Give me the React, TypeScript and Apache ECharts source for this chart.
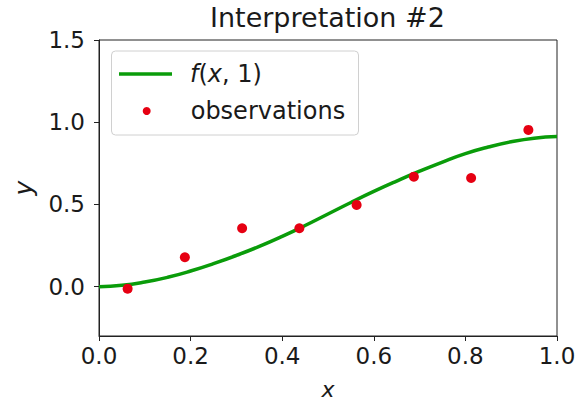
import React, { useEffect, useRef } from "react";
import * as echarts from "echarts";

const titleText = "Interpretation #2";
const curveX = [0, 0.05, 0.1, 0.15, 0.2, 0.25, 0.3, 0.35, 0.4, 0.45, 0.5, 0.55, 0.6, 0.65, 0.7, 0.75, 0.8, 0.85, 0.9, 0.95, 1.0];
const curveY = [0, 0.008, 0.028, 0.057, 0.095, 0.14, 0.19, 0.245, 0.306, 0.372, 0.442, 0.512, 0.579, 0.642, 0.702, 0.758, 0.809, 0.849, 0.881, 0.903, 0.913];
const obsX = [0.0625, 0.1875, 0.3125, 0.4375, 0.5625, 0.6875, 0.8125, 0.9375];
const obsY = [-0.012, 0.179, 0.355, 0.355, 0.497, 0.669, 0.661, 0.953];
const yTicks = [0, 0.5, 1.0, 1.5];
const lineName = "f(x, 1)";
const obsName = "observations";

const FONT = "DejaVu Sans";
const TXT = "#1a1a1a";
const GREEN = "#0a9c0a";
const RED = "#e60012";

export default function App() {
  const ref = useRef<HTMLDivElement>(null);
  useEffect(() => {
    if (!ref.current) return;
    const chart = echarts.init(ref.current, undefined, { renderer: "svg" });
    const rich = {
      it: { fontFamily: FONT, fontSize: 24, fontStyle: "italic", color: TXT },
      n: { fontFamily: FONT, fontSize: 24, color: TXT },
    };
    chart.setOption({
      animation: false,
      backgroundColor: "#ffffff",
      title: {
        text: titleText,
        left: 210,
        top: 4,
        padding: 0,
        textStyle: { fontFamily: FONT, fontSize: 27, fontWeight: "normal", color: TXT },
      },
      graphic: [
        {
          type: "rect",
          z: 3,
          shape: { x: 111.5, y: 51, width: 247, height: 84, r: 4 },
          style: { fill: "rgba(255,255,255,0.8)", stroke: "#d0d0d0", lineWidth: 1 },
        },
      ],
      legend: [
        {
          data: [{ name: lineName, icon: "rect" }],
          left: 119,
          top: 62,
          padding: 0,
          itemWidth: 53,
          itemHeight: 3.5,
          itemStyle: { borderWidth: 0 },
          formatter: () => "{it|f}{n|(}{it|x}{n|, 1)}",
          textStyle: { fontFamily: FONT, fontSize: 24, color: TXT, padding: [0, 0, 0, 13], rich },
          z: 5,
        },
        {
          data: [{ name: obsName, icon: "circle" }],
          left: 142.7,
          top: 99,
          padding: 0,
          itemWidth: 8,
          itemHeight: 8,
          itemStyle: { borderWidth: 0 },
          formatter: (name: string) => "{n|" + name + "}",
          textStyle: { fontFamily: FONT, fontSize: 24, color: TXT, padding: [0, 0, 0, 35], rich },
          z: 5,
        },
      ],
      grid: {
        left: 99,
        right: 22,
        top: 40,
        bottom: 66,
        outerBoundsMode: "none",
        containLabel: false,
        show: true,
        borderColor: "#222",
        borderWidth: 1,
        backgroundColor: "transparent",
      },
      xAxis: {
        type: "value",
        min: 0,
        max: 1,
        interval: 0.2,
        name: "x",
        nameLocation: "middle",
        nameGap: 44,
        nameTextStyle: { fontFamily: FONT, fontSize: 22, fontStyle: "italic", color: TXT, lineHeight: 18 },
        axisLine: { show: true, onZero: false, lineStyle: { color: "#222", width: 1 } },
        axisTick: { show: true, inside: false, length: 5, lineStyle: { color: "#222" } },
        axisLabel: {
          margin: 8,
          fontFamily: FONT,
          fontSize: 23,
          color: TXT,
          formatter: (v: number) => v.toFixed(1),
        },
        splitLine: { show: false },
      },
      yAxis: {
        type: "value",
        min: -0.3,
        max: 1.5,
        name: "y",
        nameLocation: "middle",
        nameGap: 63,
        nameRotate: 90,
        nameTextStyle: { fontFamily: FONT, fontSize: 25, fontStyle: "italic", color: TXT },
        axisLine: { show: true, onZero: false, lineStyle: { color: "#222", width: 1 } },
        axisTick: { show: true, inside: false, length: 5, customValues: yTicks, lineStyle: { color: "#222" } },
        axisLabel: {
          margin: 14,
          fontFamily: FONT,
          fontSize: 23,
          color: TXT,
          customValues: yTicks,
          formatter: (v: number) => v.toFixed(1),
        },
        splitLine: { show: false },
      },
      series: [
        {
          name: lineName,
          type: "line",
          data: curveX.map((x, i) => [x, curveY[i]]),
          smooth: true,
          showSymbol: false,
          symbol: "none",
          color: GREEN,
          lineStyle: { color: GREEN, width: 3.5 },
          z: 2,
        },
        {
          name: obsName,
          type: "scatter",
          data: obsX.map((x, i) => [x, obsY[i]]),
          symbol: "circle",
          symbolSize: 10,
          itemStyle: { color: RED, opacity: 1 },
          z: 3,
        },
      ],
    });
    return () => chart.dispose();
  }, []);
  return (
    <div
      ref={ref}
      style={{ position: "fixed", left: 0, top: 0, width: 579, height: 402, background: "#fff" }}
    />
  );
}
